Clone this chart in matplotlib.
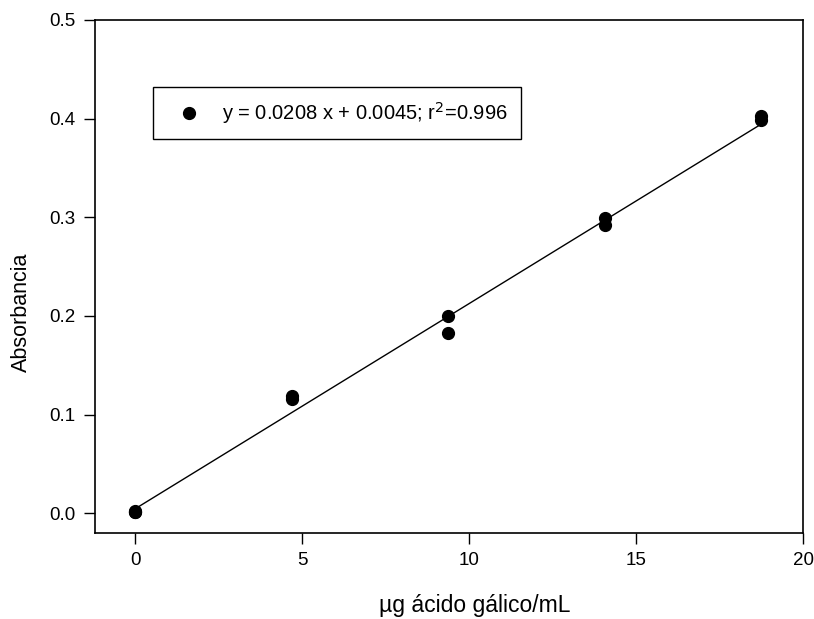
import matplotlib.pyplot as plt
from matplotlib.lines import Line2D
import numpy as np

plt.rcParams["font.family"] = ["Liberation Sans", "DejaVu Sans"]

# gallic acid standards (µg/mL) and absorbance readings
concentration = [0, 0, 0, 4.6875, 4.6875, 9.375, 9.375, 14.0625, 14.0625, 18.75, 18.75]
absorbance = [0.001, 0.002, 0.001, 0.119, 0.116, 0.200, 0.183, 0.299, 0.292, 0.403, 0.399]

slope = 0.0208
intercept = 0.0045
r_squared = 0.996

fig = plt.figure(figsize=(8.14, 6.19), dpi=100)
ax = fig.add_axes([0.1167, 0.1389, 0.8698, 0.8288])

fit_x = np.array([min(concentration), max(concentration)])
ax.plot(fit_x, slope * fit_x + intercept, color="black", linewidth=1.0, zorder=2)
ax.plot(concentration, absorbance, "o", color="black", markersize=8.5, zorder=3)

ax.set_xlim(-1.2, 20)
ax.set_ylim(-0.02, 0.5)
ax.set_xticks([0, 5, 10, 15, 20])
ax.set_yticks([0.0, 0.1, 0.2, 0.3, 0.4, 0.5])
ax.set_yticklabels([f"{v:.1f}" for v in [0.0, 0.1, 0.2, 0.3, 0.4, 0.5]])
ax.tick_params(direction="out", length=8, width=1, labelsize=13.5, pad=6)
for spine in ax.spines.values():
    spine.set_linewidth(1.2)

ax.set_xlabel("µg ácido gálico/mL", fontsize=16.5)
ax.xaxis.set_label_coords(0.537, -0.118)
ax.set_ylabel("Absorbancia", fontsize=15.5)
ax.yaxis.set_label_coords(-0.089, 0.43)

handle = Line2D([], [], marker="o", linestyle="none", color="black", markersize=8.5)
label = f"y = {slope} x + {intercept}; r$^2$={r_squared}"
leg = ax.legend([handle], [label], loc="upper left",
                bbox_to_anchor=(153 / 814, 1 - 87 / 619),
                bbox_transform=fig.transFigure,
                fontsize=14.5, frameon=True, fancybox=False,
                edgecolor="black", framealpha=1,
                borderpad=0.65, handletextpad=0.5, borderaxespad=0,
                handlelength=2.3)
leg.get_frame().set_linewidth(1.0)

fig.savefig("out.png", dpi=100)
